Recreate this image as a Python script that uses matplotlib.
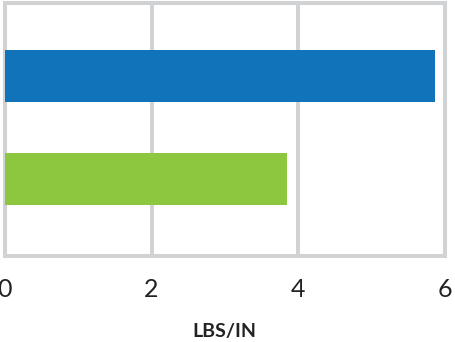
import matplotlib
matplotlib.use('Agg')
import matplotlib.pyplot as plt

# data
categories = ['B', 'A']
values = [3.85, 5.87]
colors = ['#8dc63f', '#1174bb']
xticks = [0, 2, 4, 6]
xlabel = 'LBS/IN'

gray = '#d1d2d4'

fig = plt.figure(figsize=(4.55, 3.42), dpi=100)
ax = fig.add_axes([5 / 455, 1 - 256 / 342, (444.5 - 5) / 455, (256 - 3) / 342])

ax.barh(range(len(categories)), values, height=0.5, color=colors, zorder=3)

ax.set_xlim(0, 6)
ax.set_ylim(-0.75, 1.71)
ax.set_xticks(xticks)
ax.set_xticklabels([str(t) for t in xticks], fontsize=18, family='Lato',
                   color='#222222')
ax.set_yticks([])
ax.tick_params(axis='x', length=0, pad=16)

ax.grid(axis='x', color=gray, linewidth=2.9, zorder=1)
for s in ax.spines.values():
    s.set_color(gray)
    s.set_linewidth(2.9)
    s.set_zorder(2)

ax.set_xlabel(xlabel, fontsize=14, fontweight='bold', family='Lato',
              color='#222222', labelpad=16)

fig.savefig('out.png', dpi=100)
